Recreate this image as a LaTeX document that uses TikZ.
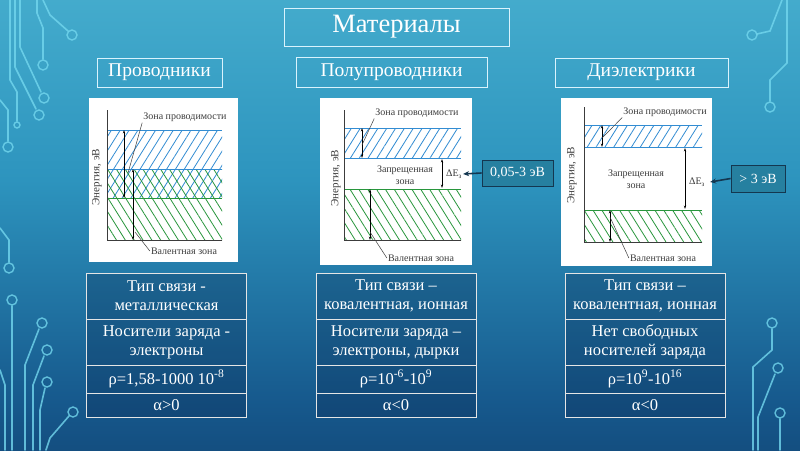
\documentclass[tikz,border=0pt]{standalone}
\usepackage{fontspec}
\setmainfont{Liberation Serif}
\usetikzlibrary{arrows.meta, positioning, patterns.meta}
\definecolor{bgtop}{RGB}{96,200,222}
\definecolor{bgmid}{RGB}{45,148,190}
\definecolor{bglow}{RGB}{22,88,140}
\definecolor{bgbot}{RGB}{8,30,68}
\definecolor{tracecol}{RGB}{115,215,238}
\definecolor{hatchblue}{RGB}{50,140,210}
\definecolor{hatchgreen}{RGB}{40,150,60}
\definecolor{diagtext}{RGB}{60,60,60}
\definecolor{tagfill}{RGB}{38,128,160}
\definecolor{tagline}{RGB}{20,55,80}
\pgfdeclareverticalshading{slidebg}{100bp}{color(0bp)=(bgbot); color(30bp)=(bglow); color(55bp)=(bgmid); color(100bp)=(bgtop)}
\tikzset{
  hdrbox/.style={draw=white!85!cyan, line width=0.8pt, text=white, inner sep=0pt},
  cell/.style={draw=white!80!gray, line width=0.7pt, fill=bgbot, fill opacity=0.25, text opacity=1,
    text=white, align=center, minimum width=160pt, inner sep=0pt, outer sep=0pt,
    font=\fontsize{16.5}{19}\selectfont},
  trace/.style={tracecol, opacity=0.8, line width=1.6pt, line cap=round},
  pad/.style={tracecol, opacity=0.8, line width=1.4pt},
  condband/.style={pattern={Lines[angle=58,distance=7.5pt,line width=0.8pt]}, pattern color=hatchblue},
  valband/.style={pattern={Lines[angle=-58,distance=7.5pt,line width=0.8pt]}, pattern color=hatchgreen},
  blueline/.style={hatchblue, line width=0.9pt},
  greenline/.style={hatchgreen, line width=0.9pt},
  dimarrow/.style={<->, >={Stealth[length=3.5pt,width=2.2pt]}, black, line width=0.5pt},
  lead/.style={diagtext, line width=0.5pt},
  small/.style={text=diagtext, inner sep=1pt, font=\fontsize{10}{11}\selectfont},
  axislabel/.style={small, rotate=90, font=\fontsize{11}{12}\selectfont},
  tag/.style={draw=tagline, fill=tagfill, line width=0.8pt, text=white, inner sep=0pt,
    font=\fontsize{14}{16}\selectfont},
  tagarrow/.style={-{Stealth[length=6pt,width=5pt]}, tagline, line width=1.6pt}
}
\begin{document}
\begin{tikzpicture}[x=1pt, y=-1pt]
  % background
  \shade[shading=slidebg] (0,0) rectangle (800,450);
  \useasboundingbox (0,0) rectangle (800,450);
  % circuit traces, left
  \draw[trace] (43,0) -- (50,15) -- (68,31);
  \draw[pad] (72,35) circle (5);
  \draw[trace] (37,0) -- (37,13) -- (43,28) -- (43,59);
  \draw[pad] (43,65) circle (5);
  \draw[trace] (20,0) -- (20,47) -- (41,92);
  \draw[pad] (44,98) circle (5);
  \draw[trace] (15,0) -- (15,67) -- (36,109);
  \draw[pad] (39,115) circle (5);
  \draw[trace] (10,0) -- (10,80) -- (17,92) -- (17,121);
  \draw[pad] (17,125) circle (3);
  \draw[trace] (0,100) -- (8,110) -- (8,141);
  \draw[pad] (8,147) circle (5);
  \draw[trace] (0,228) -- (9,240) -- (9,262);
  \draw[pad] (9,268) circle (5);
  \draw[trace] (12,306) -- (12,450);
  \draw[pad] (12,300) circle (5);
  \draw[trace] (39,329) -- (25,365) -- (25,450);
  \draw[pad] (42,323) circle (5);
  \draw[trace] (44,356) -- (33,385) -- (33,450);
  \draw[pad] (47,350) circle (5);
  \draw[trace] (45,388) -- (40,410) -- (40,450);
  \draw[pad] (47,382) circle (5);
  \draw[trace] (69,416) -- (50,438) -- (46,450);
  \draw[pad] (73,412) circle (5);
  \draw[trace] (0,370) -- (5,385) -- (5,450);
  % circuit traces, right
  \draw[trace] (757,34) -- (770,31) -- (782,0);
  \draw[pad] (752,35) circle (5);
  \draw[trace] (770,101) -- (770,80) -- (787,63) -- (787,0);
  \draw[pad] (770,107) circle (5);
  \draw[trace] (772,329) -- (772,350) -- (753,367) -- (753,450);
  \draw[pad] (772,323) circle (5);
  \draw[trace] (775,374) -- (758,417) -- (758,450);
  \draw[pad] (778,368) circle (5);
  \draw[trace] (780,419) -- (780,450);
  \draw[pad] (780,413) circle (5);

  % title and headers
  \node[hdrbox, minimum width=225pt, minimum height=38pt, font=\fontsize{26.5}{29}\selectfont]
    (title) at (396.5,27) {Материалы};
  \node[hdrbox, minimum width=125pt, minimum height=29pt, font=\fontsize{19.5}{21}\selectfont]
    (metal) at (159.5,72.5) {Проводники};
  \node[hdrbox, minimum width=191pt, minimum height=30pt, font=\fontsize{19.5}{21}\selectfont]
    (semi) at (391.5,72) {Полупроводники};
  \node[hdrbox, minimum width=173pt, minimum height=29pt, font=\fontsize{19.5}{21}\selectfont]
    (diel) at (641.5,72.5) {Диэлектрики};

  % band diagram: conductor
  \fill[white] (89,98) rectangle (238,262);
  \fill[condband] (107,130) rectangle (222,198);
  \fill[valband] (107,169) rectangle (222,240);
  \draw[blueline] (107,130) -- (222,130);
  \draw[blueline] (107,169) -- (222,169);
  \draw[greenline] (107,198) -- (222,198);
  \draw[diagtext, line width=0.8pt] (107,110) -- (107,240) -- (222,240);
  \draw[dimarrow] (124,130) -- (124,198);
  \draw[dimarrow] (133,169) -- (133,240);
  \node[small] (cond1) at (185,117) {Зона проводимости};
  \node[small] (val1) at (184,251) {Валентная зона};
  \node[axislabel] (en1) at (97,177) {Энергия, эВ};
  \coordinate (cond1end) at (128,173);
  \coordinate (val1end) at (135,232);
  \draw[lead] (cond1.south west) -- (cond1end);
  \draw[lead] (val1.west) -- (val1end);

  % band diagram: semiconductor
  \fill[white] (320,98) rectangle (472,265);
  \fill[condband] (344,128) rectangle (461,158);
  \fill[valband] (344,189) rectangle (461,240);
  \draw[blueline] (344,128) -- (461,128);
  \draw[blueline] (344,158) -- (461,158);
  \draw[greenline] (344,189) -- (461,189);
  \draw[diagtext, line width=0.8pt] (344,110) -- (344,240) -- (461,240);
  \draw[dimarrow] (362,128) -- (362,158);
  \draw[dimarrow] (370,189) -- (370,240);
  \draw[dimarrow] (442,159) -- (442,188);
  \node[small] (cond2) at (417,113) {Зона проводимости};
  \node[small] (val2) at (421,258) {Валентная зона};
  \node[small, align=center] (gap2) at (405,175) {Запрещенная\\[1pt]зона};
  \node[small] (dE2) at (454,174) {ΔE\textsubscript{з}};
  \node[axislabel] (en2) at (336,178) {Энергия, эВ};
  \coordinate (cond2end) at (362,145);
  \coordinate (val2end) at (370,232);
  \draw[lead] (cond2.south west) -- (cond2end);
  \draw[lead] (val2.west) -- (val2end);
  \node[tag, minimum width=71pt, minimum height=26pt] (tag2) at (517.5,173) {0,05-3 эВ};
  \draw[tagarrow] (tag2.west) -- (dE2.east);

  % band diagram: dielectric
  \fill[white] (561,98) rectangle (712,266);
  \fill[condband] (584,125) rectangle (702,147);
  \fill[valband] (584,210) rectangle (702,242);
  \draw[blueline] (584,125) -- (702,125);
  \draw[blueline] (584,147) -- (702,147);
  \draw[greenline] (584,210) -- (702,210);
  \draw[diagtext, line width=0.8pt] (584,107) -- (584,242) -- (702,242);
  \draw[dimarrow] (602,125) -- (602,147);
  \draw[dimarrow] (610,210) -- (610,242);
  \draw[dimarrow] (685,148) -- (685,209);
  \node[small] (cond3) at (665,112) {Зона проводимости};
  \node[small] (val3) at (663,258) {Валентная зона};
  \node[small, align=center] (gap3) at (636,179) {Запрещенная\\[1pt]зона};
  \node[small] (dE3) at (697,182) {ΔE\textsubscript{з}};
  \node[axislabel] (en3) at (572,175) {Энергия, эВ};
  \coordinate (cond3end) at (602,138);
  \coordinate (val3end) at (610,217);
  \draw[lead] (cond3.south west) -- (cond3end);
  \draw[lead] (val3.west) -- (val3end);
  \node[tag, minimum width=54pt, minimum height=27pt] (tag3) at (758,178.5) {> 3 эВ};
  \draw[tagarrow] (tag3.west) -- ([xshift=4pt]dE3.east);

  % table: conductor
  \node[cell, minimum height=46pt] (m1) at (166.5,296) {Тип связи -\\металлическая};
  \node[cell, minimum height=46pt, below=0pt of m1] (m2) {Носители заряда -\\электроны};
  \node[cell, minimum height=28pt, below=0pt of m2] (m3) {ρ=1,58-1000 10\textsuperscript{-8}};
  \node[cell, minimum height=24pt, below=0pt of m3] (m4) {α>0};
  % table: semiconductor
  \node[cell, minimum height=46pt] (s1) at (396,296) {Тип связи –\\ковалентная, ионная};
  \node[cell, minimum height=46pt, below=0pt of s1] (s2) {Носители заряда –\\электроны, дырки};
  \node[cell, minimum height=28pt, below=0pt of s2] (s3) {ρ=10\textsuperscript{-6}-10\textsuperscript{9}};
  \node[cell, minimum height=24pt, below=0pt of s3] (s4) {α<0};
  % table: dielectric
  \node[cell, minimum height=46pt] (d1) at (645,296) {Тип связи –\\ковалентная, ионная};
  \node[cell, minimum height=46pt, below=0pt of d1] (d2) {Нет свободных\\носителей заряда};
  \node[cell, minimum height=28pt, below=0pt of d2] (d3) {ρ=10\textsuperscript{9}-10\textsuperscript{16}};
  \node[cell, minimum height=24pt, below=0pt of d3] (d4) {α<0};
\end{tikzpicture}
\end{document}
